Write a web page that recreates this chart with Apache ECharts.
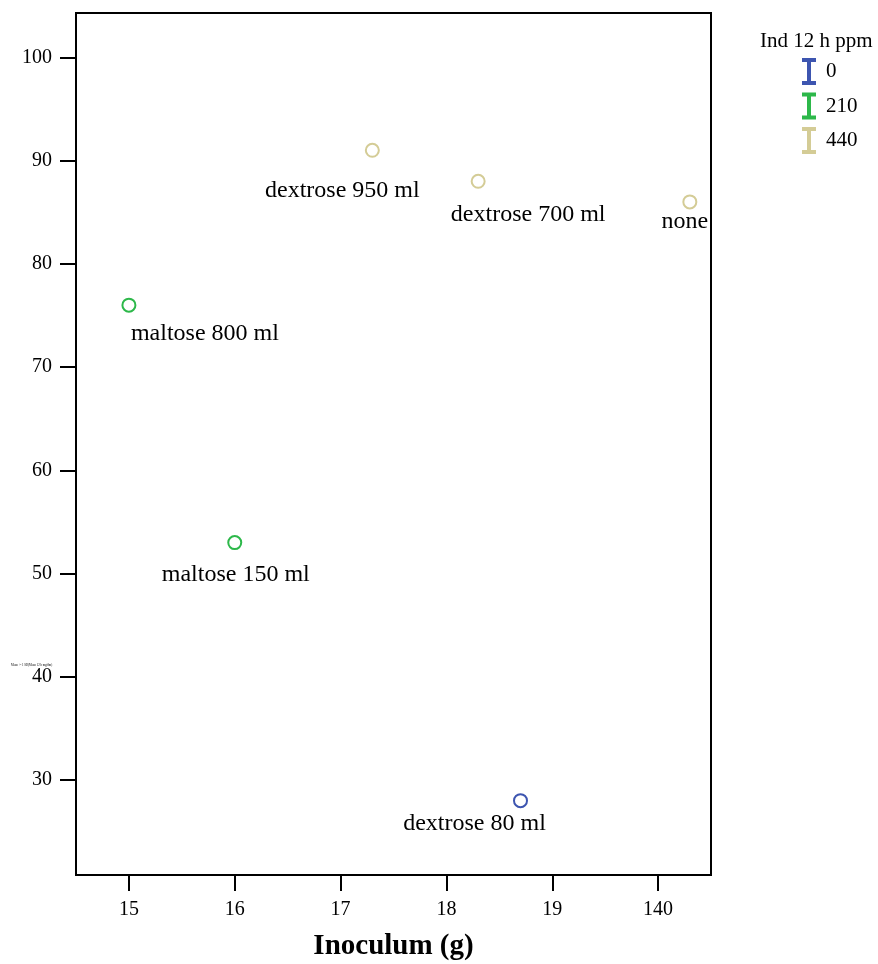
<!DOCTYPE html>
<html>
<head>
<meta charset="utf-8">
<script src="https://cdn.jsdelivr.net/npm/echarts@6/dist/echarts.min.js"></script>
<style>html,body{margin:0;padding:0;background:#fff}#c{width:878px;height:964px}</style>
</head>
<body>
<div id="c"></div>
<script>
// ---- data ----
const groupNames = ['0', '210', '440'];
const groupColors = ['#3d55b0', '#2db84a', '#d4cc96'];
const x0 = [18.7];
const y0 = [28];
const labels0 = ['dextrose 80 ml'];
const x210 = [15, 16];
const y210 = [76, 53];
const labels210 = ['maltose 800 ml', 'maltose 150 ml'];
const x440 = [17.3, 18.3, 20.3];
const y440 = [91, 88, 86];
const labels440 = ['dextrose 950 ml', 'dextrose 700 ml', 'none'];
const xTickValues = [15, 16, 17, 18, 19, 20];
const xTickLabels = ['15', '16', '17', '18', '19', '140'];
const yTickValues = [30, 40, 50, 60, 70, 80, 90, 100];
// label placement (layout, not data)
const labelOffsets0 = [[-46, 23]];
const labelOffsets210 = [[76, 29], [1, 32]];
const labelOffsets440 = [[-30, 40], [50, 33], [-5, 20]];

const FONT = 'Liberation Serif';
function build(xs, ys, labels, offs) {
  return xs.map((x, i) => ({
    value: [x, ys[i]],
    name: labels[i],
    label: { offset: offs[i] }
  }));
}
const groups = [
  build(x0, y0, labels0, labelOffsets0),
  build(x210, y210, labels210, labelOffsets210),
  build(x440, y440, labels440, labelOffsets440)
];
const ibeam = 'path://M0,0H12V2H7V23H12V25H0V23H5V2H0Z';

const chart = echarts.init(document.getElementById('c'), null, { renderer: 'canvas' });
chart.setOption({
  backgroundColor: '#fff',
  animation: false,
  textStyle: { fontFamily: FONT },
  grid: { left: 76, right: 167, top: 13, bottom: 89, outerBoundsMode: 'none', containLabel: false, show: true, borderColor: '#000', borderWidth: 2, backgroundColor: 'transparent' },
  xAxis: {
    type: 'value', min: 14.5, max: 20.5,
    splitLine: { show: false },
    axisLine: { show: true, lineStyle: { color: '#000', width: 2 } },
    axisTick: { show: true, length: 16, lineStyle: { color: '#000', width: 2 }, customValues: xTickValues },
    axisLabel: {
      color: '#000', fontFamily: FONT, fontSize: 20, margin: 25,
      customValues: xTickValues,
      formatter: v => xTickLabels[xTickValues.indexOf(Math.round(v))]
    },
    name: 'Inoculum (g)', nameLocation: 'middle', nameGap: 57,
    nameTextStyle: { color: '#000', fontFamily: FONT, fontSize: 29, fontWeight: 'bold' }
  },
  yAxis: {
    type: 'value', min: 20.8, max: 104.3,
    splitLine: { show: false },
    axisLine: { show: true, lineStyle: { color: '#000', width: 2 } },
    axisTick: { show: true, length: 16, lineStyle: { color: '#000', width: 2 }, customValues: yTickValues },
    axisLabel: { color: '#000', fontFamily: FONT, fontSize: 20, margin: 24, customValues: yTickValues }
  },
  legend: {
    orient: 'vertical', left: 797, top: 53,
    itemWidth: 12, itemHeight: 25, itemGap: 7.5,
    icon: ibeam,
    textStyle: { color: '#000', fontFamily: FONT, fontSize: 21, padding: [0, 0, 0, 6] },
    data: groupNames
  },
  graphic: [
    { type: 'text', left: 760, top: 31, style: { text: 'Ind 12 h ppm', fontFamily: FONT, fontSize: 21, fill: '#000' } },
    { type: 'text', left: 11, top: 664, style: { text: 'Mean +- 1 SD(Mean 12 h mg/dm)', fontFamily: FONT, fontSize: 3, fill: '#000' } }
  ],
  series: groups.map((d, i) => ({
    type: 'scatter',
    name: groupNames[i],
    data: d,
    symbol: 'emptyCircle',
    symbolSize: 13,
    itemStyle: { color: groupColors[i], borderColor: groupColors[i], borderWidth: 2.5, opacity: 1 },
    label: {
      show: true, position: 'inside',
      formatter: p => p.name,
      color: '#000', fontFamily: FONT, fontSize: 24,
      textBorderWidth: 0, textBorderColor: 'transparent'
    },
    emphasis: { disabled: true }
  }))
});
</script>
</body>
</html>
